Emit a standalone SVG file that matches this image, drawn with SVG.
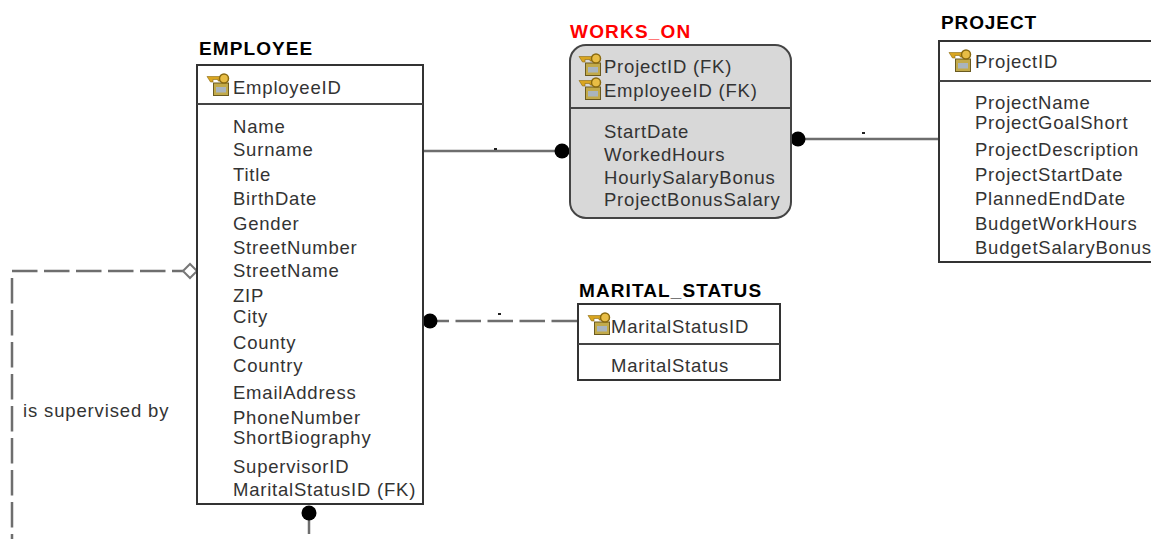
<svg xmlns="http://www.w3.org/2000/svg" width="1151" height="539" viewBox="0 0 1151 539">
<style>
text{font-family:"Liberation Sans",Arial,sans-serif;font-size:18.5px;letter-spacing:.78px;fill:#333}
.t{font-weight:bold;font-size:19px;letter-spacing:1.1px;fill:#000}
.box{fill:#fff;stroke:#333;stroke-width:2}
.div{stroke:#444;stroke-width:2;fill:none}
.c{fill:none;stroke:#6e6e6e;stroke-width:2.5}
.d{stroke-dasharray:25.5 6.5}
.dot{fill:#000}
</style>
<defs>
<g id="key">
<rect x="6.500" y="10" width="15" height="12.500" fill="#c2aa4a" stroke="#6a5a20" stroke-width="1"/>
<rect x="9" y="14" width="10" height="5.500" fill="#a9b4bd"/>
<path d="M0 3.500H14V8H11V6.500H6V9H3.500Z" fill="#d9a520" stroke="#8a6a10" stroke-width=".6"/>
<circle cx="17" cy="5.500" r="4.500" fill="#e8bd45" stroke="#8a6a10" stroke-width="1.500"/>
</g>
</defs>
<g id="connectors">
<path class="c" d="M423 151H560"/>
<path class="c" d="M800 139H940"/>
<path class="c d" d="M577 321H432"/>
<path class="c d" d="M12 271H183"/>
<path class="c d" d="M12 278V539"/>
<path class="c" d="M309 514V534"/>
<circle class="dot" cx="562" cy="151" r="7.500"/>
<circle class="dot" cx="798" cy="139" r="7.500"/>
<circle class="dot" cx="430" cy="321" r="7.500"/>
<circle class="dot" cx="309" cy="513" r="7.500"/>
<path d="M183 271L190 264L197 271L190 278Z" fill="#fff" stroke="#777" stroke-width="2"/>
<rect x="494" y="148" width="3" height="2" fill="#222"/>
<rect x="862" y="132" width="3" height="2" fill="#222"/>
<rect x="498" y="313" width="3" height="2" fill="#222"/>
<text x="23" y="417" style="letter-spacing:.85px">is supervised by</text>
</g>
<g id="employee">
<text class="t" x="199" y="55">EMPLOYEE</text>
<rect class="box" x="197" y="65" width="226" height="439"/>
<path class="div" d="M197 104H423"/>
<use href="#key" x="207" y="73"/>
<text x="233" y="94">EmployeeID</text>
<text x="233" y="133">Name</text>
<text x="233" y="156">Surname</text>
<text x="233" y="181">Title</text>
<text x="233" y="205">BirthDate</text>
<text x="233" y="230">Gender</text>
<text x="233" y="254">StreetNumber</text>
<text x="233" y="277">StreetName</text>
<text x="233" y="302">ZIP</text>
<text x="233" y="323">City</text>
<text x="233" y="349">County</text>
<text x="233" y="372">Country</text>
<text x="233" y="399">EmailAddress</text>
<text x="233" y="424">PhoneNumber</text>
<text x="233" y="444">ShortBiography</text>
<text x="233" y="473">SupervisorID</text>
<text x="233" y="496">MaritalStatusID (FK)</text>
</g>
<g id="works_on">
<text class="t" x="570" y="38" style="fill:#f00;letter-spacing:1.2px">WORKS_ON</text>
<rect x="570" y="45" width="221" height="173" rx="16" fill="#d8d8d8" stroke="#444" stroke-width="2"/>
<path class="div" d="M570 108H791"/>
<use href="#key" x="579" y="53"/>
<use href="#key" x="579" y="77"/>
<text x="604" y="73">ProjectID (FK)</text>
<text x="604" y="97">EmployeeID (FK)</text>
<text x="604" y="138">StartDate</text>
<text x="604" y="161">WorkedHours</text>
<text x="604" y="184">HourlySalaryBonus</text>
<text x="604" y="206">ProjectBonusSalary</text>
</g>
<g id="project">
<text class="t" x="941" y="29" style="letter-spacing:.9px">PROJECT</text>
<rect class="box" x="939" y="41" width="230" height="221"/>
<path class="div" d="M939 81H1169"/>
<use href="#key" x="949" y="49"/>
<text x="975" y="68">ProjectID</text>
<text x="975" y="109">ProjectName</text>
<text x="975" y="129">ProjectGoalShort</text>
<text x="975" y="156">ProjectDescription</text>
<text x="975" y="181">ProjectStartDate</text>
<text x="975" y="205">PlannedEndDate</text>
<text x="975" y="230">BudgetWorkHours</text>
<text x="975" y="254">BudgetSalaryBonus</text>
</g>
<g id="marital_status">
<text class="t" x="579" y="297">MARITAL_STATUS</text>
<rect class="box" x="578" y="304" width="202" height="76"/>
<path class="div" d="M578 344H780"/>
<use href="#key" x="588" y="312"/>
<text x="611" y="333">MaritalStatusID</text>
<text x="611" y="372">MaritalStatus</text>
</g>
</svg>
